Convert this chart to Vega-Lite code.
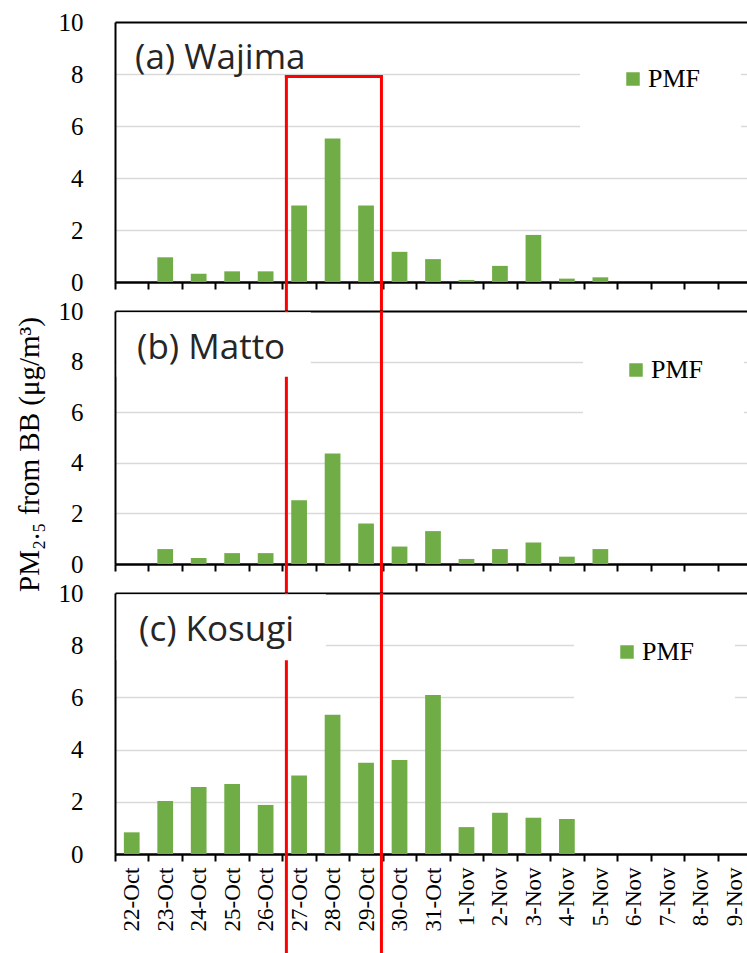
{
  "$schema": "https://vega.github.io/schema/vega-lite/v6.json",
  "background": "white",
  "padding": {"left": 14, "top": 10, "right": 0, "bottom": 0},
  "bounds": "flush",
  "spacing": 29,
  "config": {
    "view": {"stroke": null},
    "font": "Liberation Serif",
    "axisX": {"domainColor": "#000000", "domainWidth": 2, "tickColor": "#000000", "tickWidth": 2, "tickSize": 7, "tickBand": "extent", "grid": false, "title": null, "labelAngle": -90, "labelFont": "Liberation Serif", "labelFontSize": 23, "labelColor": "#000000", "labelPadding": 6},
    "axisY": {"domainColor": "#000000", "domainWidth": 2, "ticks": false, "tickSize": 0, "labelFont": "Liberation Serif", "labelFontSize": 25, "labelColor": "#000000", "labelPadding": 32, "values": [0, 2, 4, 6, 8, 10], "grid": true,
      "gridColor": {"condition": {"test": "datum.value == 0 || datum.value == 10", "value": "#000000"}, "value": "#D9D9D9"},
      "gridWidth": {"condition": {"test": "datum.value == 0 || datum.value == 10", "value": 2}, "value": 1.5}},
    "legend": {"title": null, "symbolType": "square", "symbolSize": 182, "symbolStrokeWidth": 0, "labelFont": "Liberation Serif", "labelFontSize": 26, "labelColor": "#000000", "fillColor": "white", "padding": 40, "labelOffset": 2}
  },
  "datasets": {
    "pm": [
      {"site": "Wajima", "date": "22-Oct", "value": 0},
      {"site": "Wajima", "date": "23-Oct", "value": 0.95},
      {"site": "Wajima", "date": "24-Oct", "value": 0.32},
      {"site": "Wajima", "date": "25-Oct", "value": 0.41},
      {"site": "Wajima", "date": "26-Oct", "value": 0.41},
      {"site": "Wajima", "date": "27-Oct", "value": 2.94},
      {"site": "Wajima", "date": "28-Oct", "value": 5.52},
      {"site": "Wajima", "date": "29-Oct", "value": 2.94},
      {"site": "Wajima", "date": "30-Oct", "value": 1.16},
      {"site": "Wajima", "date": "31-Oct", "value": 0.88},
      {"site": "Wajima", "date": "1-Nov", "value": 0.08},
      {"site": "Wajima", "date": "2-Nov", "value": 0.62},
      {"site": "Wajima", "date": "3-Nov", "value": 1.81},
      {"site": "Wajima", "date": "4-Nov", "value": 0.13},
      {"site": "Wajima", "date": "5-Nov", "value": 0.18},
      {"site": "Wajima", "date": "6-Nov", "value": 0},
      {"site": "Wajima", "date": "7-Nov", "value": 0},
      {"site": "Wajima", "date": "8-Nov", "value": 0},
      {"site": "Wajima", "date": "9-Nov", "value": 0},
      {"site": "Matto", "date": "22-Oct", "value": 0},
      {"site": "Matto", "date": "23-Oct", "value": 0.59},
      {"site": "Matto", "date": "24-Oct", "value": 0.24},
      {"site": "Matto", "date": "25-Oct", "value": 0.43},
      {"site": "Matto", "date": "26-Oct", "value": 0.43},
      {"site": "Matto", "date": "27-Oct", "value": 2.52},
      {"site": "Matto", "date": "28-Oct", "value": 4.37},
      {"site": "Matto", "date": "29-Oct", "value": 1.6},
      {"site": "Matto", "date": "30-Oct", "value": 0.69},
      {"site": "Matto", "date": "31-Oct", "value": 1.3},
      {"site": "Matto", "date": "1-Nov", "value": 0.2},
      {"site": "Matto", "date": "2-Nov", "value": 0.59},
      {"site": "Matto", "date": "3-Nov", "value": 0.85},
      {"site": "Matto", "date": "4-Nov", "value": 0.29},
      {"site": "Matto", "date": "5-Nov", "value": 0.59},
      {"site": "Matto", "date": "6-Nov", "value": 0},
      {"site": "Matto", "date": "7-Nov", "value": 0},
      {"site": "Matto", "date": "8-Nov", "value": 0},
      {"site": "Matto", "date": "9-Nov", "value": 0},
      {"site": "Kosugi", "date": "22-Oct", "value": 0.83},
      {"site": "Kosugi", "date": "23-Oct", "value": 2.03},
      {"site": "Kosugi", "date": "24-Oct", "value": 2.57},
      {"site": "Kosugi", "date": "25-Oct", "value": 2.68},
      {"site": "Kosugi", "date": "26-Oct", "value": 1.88},
      {"site": "Kosugi", "date": "27-Oct", "value": 3.01},
      {"site": "Kosugi", "date": "28-Oct", "value": 5.34},
      {"site": "Kosugi", "date": "29-Oct", "value": 3.5},
      {"site": "Kosugi", "date": "30-Oct", "value": 3.6},
      {"site": "Kosugi", "date": "31-Oct", "value": 6.09},
      {"site": "Kosugi", "date": "1-Nov", "value": 1.03},
      {"site": "Kosugi", "date": "2-Nov", "value": 1.58},
      {"site": "Kosugi", "date": "3-Nov", "value": 1.39},
      {"site": "Kosugi", "date": "4-Nov", "value": 1.34},
      {"site": "Kosugi", "date": "5-Nov", "value": 0},
      {"site": "Kosugi", "date": "6-Nov", "value": 0},
      {"site": "Kosugi", "date": "7-Nov", "value": 0},
      {"site": "Kosugi", "date": "8-Nov", "value": 0},
      {"site": "Kosugi", "date": "9-Nov", "value": 0}
    ]
  },
  "resolve": {"scale": {"color": "independent"}, "legend": {"color": "independent"}},
  "vconcat": [
    {
      "width": 636, "height": 260,
      "resolve": {"scale": {"x": "independent"}},
      "layer": [
        {
          "data": {"name": "pm"},
          "transform": [{"filter": "datum.site === 'Wajima'"}],
          "mark": {"type": "bar", "width": {"band": 0.47}},
          "encoding": {
            "x": {"field": "date", "type": "ordinal", "sort": null, "scale": {"domain": ["22-Oct","23-Oct","24-Oct","25-Oct","26-Oct","27-Oct","28-Oct","29-Oct","30-Oct","31-Oct","1-Nov","2-Nov","3-Nov","4-Nov","5-Nov","6-Nov","7-Nov","8-Nov","9-Nov"], "paddingInner": 0, "paddingOuter": 0}, "axis": {"labels": false}},
            "y": {"field": "value", "type": "quantitative", "scale": {"domain": [0, 10], "nice": false}, "axis": {"title": null}},
            "color": {"datum": "PMF", "type": "nominal", "scale": {"domain": ["PMF"], "range": ["#70AD47"]}, "legend": {"orient": "none", "legendX": 465, "legendY": 4}}
          }
        },
        {
          "data": {"values": [{}]},
          "mark": {"type": "rule", "color": "#FF0000", "strokeWidth": 3, "strokeCap": "square"},
          "encoding": {
            "x": {"datum": 5.12, "type": "quantitative", "scale": {"domain": [0, 19], "nice": false, "zero": false}, "axis": null},
            "y": {"datum": 7.9, "type": "quantitative", "scale": {"domain": [0, 10], "nice": false}},
            "y2": {"datum": -1.12}
          }
        },
        {
          "data": {"values": [{}]},
          "mark": {"type": "rule", "color": "#FF0000", "strokeWidth": 3, "strokeCap": "square"},
          "encoding": {
            "x": {"datum": 7.96, "type": "quantitative", "scale": {"domain": [0, 19], "nice": false, "zero": false}, "axis": null},
            "y": {"datum": 7.9, "type": "quantitative", "scale": {"domain": [0, 10], "nice": false}},
            "y2": {"datum": -1.12}
          }
        },
        {
          "data": {"values": [{}]},
          "mark": {"type": "rule", "color": "#FF0000", "strokeWidth": 3, "strokeCap": "square"},
          "encoding": {
            "x": {"datum": 5.12, "type": "quantitative", "scale": {"domain": [0, 19], "nice": false, "zero": false}, "axis": null},
            "x2": {"datum": 7.96},
            "y": {"datum": 7.9, "type": "quantitative", "scale": {"domain": [0, 10], "nice": false}}
          }
        },
        {
          "data": {"values": [{}]},
          "mark": {"type": "text", "font": "Open Sans", "fontSize": 35, "align": "left", "baseline": "alphabetic", "color": "#262626"},
          "encoding": {
            "x": {"datum": 0.6, "type": "quantitative", "scale": {"domain": [0, 19], "nice": false, "zero": false}, "axis": null},
            "y": {"datum": 8.2, "type": "quantitative", "scale": {"domain": [0, 10], "nice": false}},
            "text": {"value": "(a) Wajima"}
          }
        }
      ]
    },
    {
      "width": 636, "height": 253,
      "resolve": {"scale": {"x": "independent"}},
      "layer": [
        {
          "data": {"name": "pm"},
          "transform": [{"filter": "datum.site === 'Matto'"}],
          "mark": {"type": "bar", "width": {"band": 0.47}},
          "encoding": {
            "x": {"field": "date", "type": "ordinal", "sort": null, "scale": {"domain": ["22-Oct","23-Oct","24-Oct","25-Oct","26-Oct","27-Oct","28-Oct","29-Oct","30-Oct","31-Oct","1-Nov","2-Nov","3-Nov","4-Nov","5-Nov","6-Nov","7-Nov","8-Nov","9-Nov"], "paddingInner": 0, "paddingOuter": 0}, "axis": {"labels": false}},
            "y": {"field": "value", "type": "quantitative", "scale": {"domain": [0, 10], "nice": false}, "axis": {"title": "PM₂.₅ from BB (μg/m³)", "titleFont": "Liberation Serif", "titleFontSize": 29, "titleFontWeight": "normal", "titleColor": "#000000", "titleAngle": -90, "titleAlign": "center", "titleBaseline": "alphabetic", "titleX": -77, "titleY": 143}},
            "color": {"datum": "PMF", "type": "nominal", "scale": {"domain": ["PMF"], "range": ["#70AD47"]}, "legend": {"orient": "none", "legendX": 468, "legendY": 6}}
          }
        },
        {
          "data": {"values": [{}]},
          "mark": {"type": "rule", "color": "#FF0000", "strokeWidth": 3},
          "encoding": {
            "x": {"datum": 5.12, "type": "quantitative", "scale": {"domain": [0, 19], "nice": false, "zero": false}, "axis": null},
            "y": {"datum": 10, "type": "quantitative", "scale": {"domain": [0, 10], "nice": false}},
            "y2": {"datum": -1.15}
          }
        },
        {
          "data": {"values": [{}]},
          "mark": {"type": "rule", "color": "#FF0000", "strokeWidth": 3},
          "encoding": {
            "x": {"datum": 7.96, "type": "quantitative", "scale": {"domain": [0, 19], "nice": false, "zero": false}, "axis": null},
            "y": {"datum": 10, "type": "quantitative", "scale": {"domain": [0, 10], "nice": false}},
            "y2": {"datum": -1.15}
          }
        },
        {
          "data": {"values": [{}]},
          "mark": {"type": "rect", "color": "white"},
          "encoding": {
            "x": {"datum": 0.05, "type": "quantitative", "scale": {"domain": [0, 19], "nice": false, "zero": false}, "axis": null},
            "x2": {"datum": 5.85},
            "y": {"datum": 7.4, "type": "quantitative", "scale": {"domain": [0, 10], "nice": false}},
            "y2": {"datum": 9.95}
          }
        },
        {
          "data": {"values": [{}]},
          "mark": {"type": "text", "font": "Open Sans", "fontSize": 35, "align": "left", "baseline": "alphabetic", "color": "#262626"},
          "encoding": {
            "x": {"datum": 0.66, "type": "quantitative", "scale": {"domain": [0, 19], "nice": false, "zero": false}, "axis": null},
            "y": {"datum": 8.1, "type": "quantitative", "scale": {"domain": [0, 10], "nice": false}},
            "text": {"value": "(b) Matto"}
          }
        }
      ]
    },
    {
      "width": 636, "height": 261,
      "resolve": {"scale": {"x": "independent"}},
      "layer": [
        {
          "data": {"name": "pm"},
          "transform": [{"filter": "datum.site === 'Kosugi'"}],
          "mark": {"type": "bar", "width": {"band": 0.47}},
          "encoding": {
            "x": {"field": "date", "type": "ordinal", "sort": null, "scale": {"domain": ["22-Oct","23-Oct","24-Oct","25-Oct","26-Oct","27-Oct","28-Oct","29-Oct","30-Oct","31-Oct","1-Nov","2-Nov","3-Nov","4-Nov","5-Nov","6-Nov","7-Nov","8-Nov","9-Nov"], "paddingInner": 0, "paddingOuter": 0}, "axis": {"labels": true}},
            "y": {"field": "value", "type": "quantitative", "scale": {"domain": [0, 10], "nice": false}, "axis": {"title": null}},
            "color": {"datum": "PMF", "type": "nominal", "scale": {"domain": ["PMF"], "range": ["#70AD47"]}, "legend": {"orient": "none", "legendX": 459, "legendY": 6}}
          }
        },
        {
          "data": {"values": [{}]},
          "mark": {"type": "rule", "color": "#FF0000", "strokeWidth": 3},
          "encoding": {
            "x": {"datum": 5.12, "type": "quantitative", "scale": {"domain": [0, 19], "nice": false, "zero": false}, "axis": null},
            "y": {"datum": 10, "type": "quantitative", "scale": {"domain": [0, 10], "nice": false}},
            "y2": {"datum": -4}
          }
        },
        {
          "data": {"values": [{}]},
          "mark": {"type": "rule", "color": "#FF0000", "strokeWidth": 3},
          "encoding": {
            "x": {"datum": 7.96, "type": "quantitative", "scale": {"domain": [0, 19], "nice": false, "zero": false}, "axis": null},
            "y": {"datum": 10, "type": "quantitative", "scale": {"domain": [0, 10], "nice": false}},
            "y2": {"datum": -4}
          }
        },
        {
          "data": {"values": [{}]},
          "mark": {"type": "rect", "color": "white"},
          "encoding": {
            "x": {"datum": 0.05, "type": "quantitative", "scale": {"domain": [0, 19], "nice": false, "zero": false}, "axis": null},
            "x2": {"datum": 6.3},
            "y": {"datum": 7.42, "type": "quantitative", "scale": {"domain": [0, 10], "nice": false}},
            "y2": {"datum": 9.95}
          }
        },
        {
          "data": {"values": [{}]},
          "mark": {"type": "text", "font": "Open Sans", "fontSize": 35, "align": "left", "baseline": "alphabetic", "color": "#262626"},
          "encoding": {
            "x": {"datum": 0.72, "type": "quantitative", "scale": {"domain": [0, 19], "nice": false, "zero": false}, "axis": null},
            "y": {"datum": 8.15, "type": "quantitative", "scale": {"domain": [0, 10], "nice": false}},
            "text": {"value": "(c) Kosugi"}
          }
        }
      ]
    }
  ]
}
